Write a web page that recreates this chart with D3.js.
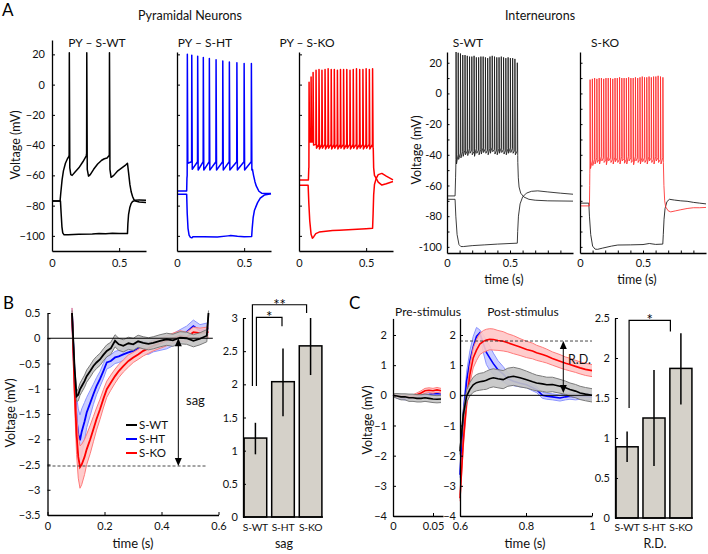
<!DOCTYPE html>
<html><head><meta charset="utf-8">
<script src="https://cdn.jsdelivr.net/npm/d3@7"></script>
<style>body{margin:0;background:#fff}</style>
</head><body><svg id="c" width="708" height="554"></svg>
<script>
// ================= DATA =================
const pyTitles = ["PY – S-WT", "PY – S-HT", "PY – S-KO"];
const pyTicksY = [-100, -80, -60, -40, -20, 0, 20];
const pyTicksX = [0, 0.5];
// PY S-WT (black)
const pyWTdepKnots = [[0,-77],[0.06,-77],[0.065,-72],[0.075,-63],[0.085,-57],[0.1,-52],[0.115,-49],[0.126,-47.5],
  [0.14,-59.5],[0.15,-60],[0.17,-58],[0.2,-55],[0.23,-51],[0.25,-48],[0.255,-47],
  [0.272,-60.5],[0.285,-59.5],[0.31,-56],[0.34,-52.5],[0.37,-50],[0.39,-49],[0.41,-48.5],[0.424,-47],
  [0.44,-61.3],[0.46,-60],[0.49,-57],[0.52,-55],[0.55,-53],[0.562,-52],[0.57,-58],[0.58,-66],[0.59,-71],[0.6,-74],[0.61,-76],[0.62,-77],[0.65,-77.6],[0.7,-78]];
const pyWTspikes = [[0.129,-46.5,21,-55],[0.259,-45.5,21,-56],[0.428,-46.5,21,-56]];
const pyWThyp = [[0,-77],[0.063,-77],[0.068,-85],[0.074,-94],[0.08,-98],[0.09,-99.3],[0.12,-99.3],[0.2,-99],[0.3,-98.8],[0.35,-98.5],[0.4,-98.6],[0.45,-98.3],[0.5,-98.5],[0.562,-98.5],[0.565,-92],[0.57,-86],[0.58,-81],[0.59,-78.5],[0.6,-77.3],[0.62,-76.5],[0.65,-76.2],[0.7,-76.4]];
// PY S-HT (blue)
const pyHTdepKnots = [[0,-70.3],[0.072,-70.3],[0.074,-62],
  [0.562,-56],[0.57,-60],[0.58,-64],[0.59,-67],[0.61,-70.5],[0.63,-71.8],[0.66,-72],[0.7,-72]];
const pyHTspikes = [[0.077,-60,20,-52],[0.110,-51,19.5,-56],[0.154,-51,18.8,-56.5],[0.196,-51,18,-56.5],[0.241,-51,17.2,-56.5],[0.291,-51,16.5,-56.5],[0.341,-51,15.6,-56.5],[0.39,-51,15,-56.5],[0.446,-51,14.5,-56.5],[0.5,-51,14,-56.5],[0.554,-51,14,-56.5]];
const pyHThyp = [[0,-72.5],[0.072,-72.5],[0.076,-85],[0.082,-95],[0.09,-99.5],[0.1,-101],[0.11,-101.3],[0.12,-100.5],[0.2,-100.6],[0.3,-100.7],[0.38,-100],[0.4,-99.8],[0.45,-100.3],[0.5,-100.5],[0.556,-100.4],[0.56,-95],[0.567,-88],[0.577,-83],[0.6,-78],[0.62,-75],[0.65,-73],[0.7,-72.2]];
// PY S-KO (red)
const pyKOdepKnots = [[0,-63],[0.07,-63],[0.073,-55],
  [0.553,-42],[0.556,-55],[0.562,-60],[0.575,-62],[0.59,-64.5],[0.617,-66.4],[0.65,-65.5],[0.7,-64]];
const pyKOspikes = [[0.075,-55,1.5,-38],[0.09,-38,5,-38],[0.105,-38,8,-40],[0.127,-39.5,9.5,-42],[0.149,-39.5,10,-42.5],[0.171,-39.5,9.5,-42],[0.194,-39.5,10,-42.5],[0.217,-39.5,10.5,-42],[0.24,-39.5,10,-42.5],[0.263,-39.5,10,-42],[0.286,-39.5,9.5,-42.5],[0.309,-39.5,10,-42],[0.332,-39.5,10,-42.5],[0.356,-39.5,10,-42],[0.38,-39.5,9.5,-42.5],[0.404,-39.5,10,-42],[0.428,-39.5,10.5,-42.5],[0.452,-39.5,10,-42],[0.476,-39.5,10,-42.5],[0.5,-39.5,10.5,-42],[0.524,-39.5,10,-42.5],[0.548,-39.5,10.5,-42]];
const pyKOhyp = [[0,-66.5],[0.068,-66.5],[0.073,-78],[0.08,-90],[0.09,-99],[0.1,-101.5],[0.11,-100.5],[0.125,-98.5],[0.15,-97.5],[0.2,-97],[0.25,-96.5],[0.3,-96.3],[0.4,-95.8],[0.5,-95.3],[0.548,-95],[0.552,-85],[0.556,-73],[0.562,-66],[0.575,-62],[0.59,-59.5],[0.617,-58.7],[0.65,-60.5],[0.7,-63]];

// Interneurons
const inTitles = ["S-WT", "S-KO"];
const inTicksY = [-100,-90,-80,-70,-60,-50,-40,-30,-20,-10,0,10,20];
const inTicksX = [0,0.1,0.2,0.3,0.4,0.5,0.6,0.7,0.8,0.9];
const inWTdepKnots = [[0,-66.8],[0.064,-66.8],[0.068,-55],[0.07,-48],
  [0.562,-45],[0.566,-55],[0.572,-61],[0.585,-65],[0.61,-67.5],[0.65,-69],[0.7,-69.6],[0.8,-70],[1.0,-70.2]];
const inWTspikes = [[0.072,27,-46],[0.089,26.5,-43],[0.107,26,-42],[0.125,25,-41],[0.143,25,-40],[0.161,24.5,-40.5],[0.179,24,-39],[0.197,24,-40],[0.215,24.5,-41],[0.233,23.5,-39],[0.251,23.5,-40],[0.269,24,-39.5],[0.287,24,-38.5],[0.305,23.5,-39],[0.323,23,-40],[0.341,24,-39],[0.359,24.5,-38],[0.377,24,-39.5],[0.395,23.5,-40],[0.413,23.5,-39],[0.431,24,-38.5],[0.449,23.5,-39.5],[0.467,23,-40],[0.485,23.5,-39],[0.503,23,-38.5],[0.521,23,-39],[0.539,22.5,-40],[0.558,20,-40.5]];
const inWThyp = [[0,-69],[0.064,-69],[0.07,-80],[0.08,-92],[0.095,-98.5],[0.11,-99.8],[0.13,-99.8],[0.2,-99.2],[0.3,-98.7],[0.4,-98.2],[0.5,-97.8],[0.558,-97.6],[0.561,-90],[0.567,-80],[0.58,-72],[0.6,-67.5],[0.63,-65],[0.67,-63.8],[0.72,-63.5],[0.8,-64.2],[0.9,-65],[1.0,-65.7]];
const inKOdepKnots = [[0,-73.3],[0.075,-73.3],[0.077,-60],[0.078,-52],
  [0.662,-46],[0.666,-60],[0.672,-70],[0.68,-74],[0.7,-76.5],[0.72,-77.2],[0.76,-76.5],[0.8,-75.8],[0.85,-75],[0.9,-74.5],[0.95,-74.5],[1.0,-74.3]];
const inKOspikes = [[0.08,9,-49],[0.098,9.5,-47],[0.116,10,-46],[0.134,9.5,-45],[0.152,10,-46],[0.17,10,-44],[0.188,9.5,-45],[0.206,10,-46.5],[0.224,10,-44],[0.242,10,-45],[0.26,9.5,-46],[0.278,10,-44.5],[0.296,10,-45],[0.314,10.5,-46],[0.332,10,-44],[0.35,10,-45.5],[0.368,10,-46],[0.386,10.5,-44],[0.404,10,-45],[0.422,10,-46.5],[0.44,10.5,-44],[0.458,10,-45],[0.476,10.5,-46],[0.494,11,-44.5],[0.512,10.5,-45],[0.53,10.5,-46],[0.548,11,-44],[0.566,10.5,-45],[0.584,11,-46],[0.602,11,-44],[0.62,11.5,-45],[0.639,11,-46],[0.658,10.5,-45]];
const inKOhyp = [[0,-71.5],[0.07,-71.5],[0.075,-80],[0.085,-92],[0.1,-99.5],[0.12,-101.5],[0.14,-101.6],[0.18,-100.8],[0.25,-99.5],[0.3,-98.8],[0.4,-98.7],[0.5,-98.5],[0.55,-97.8],[0.6,-98.4],[0.657,-98.2],[0.661,-92],[0.667,-82],[0.675,-75],[0.69,-70.5],[0.71,-69],[0.75,-69.5],[0.8,-70],[0.85,-70.3],[0.9,-71],[0.95,-71.5],[1.0,-72]];

// Panel B: sag traces (mean and s.e.m.)
const seriesNames = ["S-WT", "S-HT", "S-KO"];
const tB = [0.086,0.095,0.102,0.108,0.114,0.12,0.13,0.1375,0.15,0.161,0.172,0.184,0.196,0.208,0.222,0.237,0.25,0.266,0.284,0.301,0.318,0.336,0.354,0.371,0.395,0.418,0.44,0.465,0.488,0.512,0.535,0.559,0.565];
const sagWT = [0.5,-0.6,-1.15,-1.12,-1.01,-0.95,-0.85,-0.75,-0.65,-0.55,-0.48,-0.42,-0.33,-0.25,-0.2,-0.05,-0.12,-0.15,-0.1,-0.12,-0.06,-0.09,-0.11,-0.09,-0.05,-0.02,-0.04,0.01,0.0,-0.05,-0.01,0.05,0.5];
const sagHT = [0.5,-0.8,-1.6,-1.9,-2.02,-1.85,-1.65,-1.47,-1.28,-1.11,-0.95,-0.81,-0.65,-0.48,-0.45,-0.38,-0.36,-0.32,-0.28,-0.25,-0.2,-0.18,-0.2,-0.15,-0.12,-0.09,-0.03,0.05,0.12,0.24,0.15,0.18,0.2];
const sagKO = [0.5,-1.0,-1.9,-2.35,-2.55,-2.5,-2.35,-2.2,-2.0,-1.8,-1.6,-1.41,-1.2,-1.01,-0.88,-0.75,-0.65,-0.55,-0.45,-0.38,-0.32,-0.25,-0.2,-0.15,-0.1,-0.05,0.0,0.05,0.02,0.12,0.1,0.12,0.12];
const semWT = [0.05,0.08,0.1,0.12,0.12,0.12,0.12,0.12,0.12,0.12,0.12,0.12,0.12,0.12,0.12,0.12,0.12,0.12,0.12,0.12,0.12,0.12,0.12,0.12,0.12,0.12,0.12,0.12,0.12,0.12,0.12,0.12,0.05];
const semHT = [0.1,0.3,0.45,0.5,0.5,0.45,0.38,0.3,0.25,0.2,0.17,0.15,0.15,0.13,0.12,0.12,0.12,0.12,0.12,0.12,0.12,0.12,0.12,0.12,0.12,0.12,0.12,0.12,0.12,0.12,0.12,0.12,0.12];
const semKO = [0.1,0.3,0.4,0.42,0.42,0.4,0.35,0.3,0.28,0.25,0.22,0.2,0.18,0.16,0.15,0.14,0.13,0.12,0.12,0.1,0.1,0.1,0.1,0.1,0.1,0.1,0.1,0.1,0.1,0.1,0.1,0.1,0.1];
const sagLevel = -2.53;
const sagArrowT = 0.459;

// Panel B bars
const barCats = ["S-WT", "S-HT", "S-KO"];
const sagMean = [1.19, 2.04, 2.58];
const sagLo = [0.945, 1.52, 2.14];
const sagHi = [1.42, 2.54, 3.0];
const sagSig = [{a:"S-WT", b:"S-HT", y:3.01, ya:1.975, yb:2.875, label:"*"},
                {a:"S-WT", b:"S-KO", y:3.2, ya:1.975, yb:3.075, label:"**"}];

// Panel C: rebound depolarization
const tPre = [0,0.005,0.01,0.015,0.02,0.025,0.03,0.035,0.04,0.045,0.05,0.055,0.06];
const preWT = [0,-0.02,-0.05,-0.05,-0.08,-0.08,-0.1,-0.1,-0.08,-0.1,-0.12,-0.13,-0.12];
const preHT = [0,-0.05,-0.08,-0.1,-0.08,-0.05,-0.03,0,0.02,0.03,0.05,0.05,0.05];
const preKO = [0,-0.02,-0.04,-0.04,-0.05,-0.03,0.02,0.08,0.15,0.17,0.15,0.18,0.15];
const preSemWT = [0.05,0.08,0.1,0.1,0.12,0.12,0.12,0.12,0.12,0.12,0.12,0.12,0.12];
const preSemHT = [0.03,0.05,0.05,0.05,0.05,0.05,0.05,0.05,0.05,0.05,0.05,0.05,0.05];
const preSemKO = [0.03,0.04,0.04,0.04,0.05,0.05,0.06,0.07,0.08,0.08,0.08,0.08,0.08];
const tPost = [0.6,0.61,0.62,0.63,0.64,0.65,0.66,0.671,0.68,0.69,0.701,0.715,0.731,0.745,0.762,0.782,0.802,0.82,0.832,0.85,0.863,0.88,0.903,0.92,0.933,0.95,0.964,0.98,1.0];
const postWT = [-1.86,-0.64,-0.03,0.2,0.35,0.42,0.45,0.47,0.5,0.55,0.58,0.55,0.52,0.6,0.63,0.58,0.52,0.45,0.41,0.38,0.35,0.36,0.3,0.25,0.19,0.14,0.08,0.04,0.0];
const postHT = [-2.63,-0.64,0.47,1.13,1.6,1.95,2.07,1.7,1.42,1.24,1.05,0.85,0.7,0.55,0.47,0.4,0.35,0.25,0.19,0.0,-0.03,-0.05,-0.09,-0.05,-0.03,-0.05,-0.03,-0.04,-0.05];
const postKO = [-3.41,-1.53,-0.2,0.69,1.24,1.5,1.7,1.79,1.83,1.86,1.85,1.82,1.79,1.74,1.68,1.6,1.52,1.47,1.41,1.35,1.3,1.22,1.13,1.06,1.02,0.96,0.91,0.86,0.82];
const postSemWT = [0.1,0.15,0.2,0.22,0.25,0.27,0.28,0.28,0.3,0.3,0.3,0.3,0.3,0.3,0.3,0.3,0.28,0.27,0.26,0.25,0.25,0.24,0.23,0.22,0.22,0.22,0.22,0.22,0.22];
const postSemHT = [0.1,0.2,0.3,0.35,0.35,0.3,0.1,0.3,0.4,0.4,0.35,0.3,0.25,0.2,0.15,0.12,0.1,0.1,0.1,0.1,0.1,0.1,0.1,0.1,0.1,0.1,0.1,0.1,0.1];
const postSemKO = [0.1,0.2,0.25,0.3,0.33,0.35,0.35,0.36,0.36,0.35,0.35,0.33,0.32,0.3,0.3,0.28,0.27,0.26,0.25,0.24,0.23,0.22,0.22,0.21,0.21,0.2,0.2,0.2,0.2];
const rdLevel = 1.8;
const rdArrowT = 0.913;
const rdArrowBottom = 0.08;

// Panel C bars
const rdMean = [0.89, 1.25, 1.87];
const rdLo = [0.70, 0.65, 1.42];
const rdHi = [1.08, 1.85, 2.31];
const rdSig = [{a:"S-WT", b:"S-KO", y:2.47, ya:1.375, yb:2.33, label:"*"}];

// ================= DRAWING =================
const FONT = "Lato, 'Open Sans', 'DejaVu Sans', sans-serif";
const svg = d3.select("#c").attr("font-family", FONT);
const COL = {wt:"#000000", ht:"#0000ff", ko:"#ff0000"};

function txt(x, y, s, o = {}) {
  const t = svg.append("text").attr("x", x).attr("y", y).text(s)
    .attr("font-size", o.size || 12).attr("fill", o.fill || "#111")
    .attr("text-anchor", o.anchor || "middle");
  if (o.rotate) t.attr("transform", `rotate(-90,${x},${y})`);
  return t;
}
function styleAxis(g) {
  g.attr("font-family", FONT).attr("font-size", 11);
  g.select(".domain").attr("stroke", "#000").attr("stroke-width", 1.3);
  g.selectAll(".tick line").attr("stroke", "#000").attr("stroke-width", 1);
  g.selectAll(".tick text").attr("fill", "#111");
}
function yAxis(y, x0, ticks, fmt, pad = 6, size = -3) {
  svg.append("g").attr("transform", `translate(${x0},0)`)
    .call(d3.axisLeft(y).tickValues(ticks).tickSizeInner(size).tickSizeOuter(0).tickPadding(pad).tickFormat(fmt))
    .call(styleAxis);
}
function xAxis(x, y0, ticks, fmt, pad = 7, size = -3) {
  svg.append("g").attr("transform", `translate(0,${y0})`)
    .call(d3.axisBottom(x).tickValues(ticks).tickSizeInner(size).tickSizeOuter(0).tickPadding(pad).tickFormat(fmt))
    .call(styleAxis);
}
function build(knots, spikes, preRise) {
  const pts = knots.map(d => [d[0], d[1]]);
  spikes.forEach(s => {
    let t, pre, pk, tr;
    if (s.length === 4) { [t, pre, pk, tr] = s; } else { [t, pk, tr] = s; pre = tr + preRise; }
    pts.push([t - 0.0012, pre], [t, pk], [t + 0.0035, tr]);
  });
  return pts.sort((a, b) => a[0] - b[0]);
}
function trace(x, y, pts, color, w) {
  svg.append("path").datum(pts)
    .attr("d", d3.line().x(d => x(d[0])).y(d => y(d[1])))
    .attr("fill", "none").attr("stroke", color).attr("stroke-width", w).attr("stroke-linejoin", "round");
}
const fmtNum = d => d3.format("")(d);

// ---- Panel A: pyramidal ----
txt(2, 16, "A", {size: 17, anchor: "start", fill: "#000"});
txt(190, 20, "Pyramidal Neurons", {size: 12.5});
txt(540, 20, "Interneurons", {size: 12.5});
const pxPerMv = 211 / 139.5;
const pyX0 = [52, 177, 299];
const pyTop = [40, 52, 52];
const pyTitleX = [97, 205, 307];
const pySets = [
  {traces: [[build(pyWTdepKnots, pyWTspikes), COL.wt], [pyWThyp, COL.wt]], labels: true},
  {traces: [[build(pyHTdepKnots, pyHTspikes), COL.ht], [pyHThyp, COL.ht]], labels: false},
  {traces: [[build(pyKOdepKnots, pyKOspikes), COL.ko], [pyKOhyp, COL.ko]], labels: false}
];
pySets.forEach((p, i) => {
  const y = d3.scaleLinear().domain([-110, -110 + (251 - pyTop[i]) / pxPerMv]).range([251, pyTop[i]]);
  const x = d3.scaleLinear().domain([0, 0.7]).range([pyX0[i], pyX0[i] + 94]);
  p.traces.forEach(([pts, c]) => trace(x, y, pts, c, 1.5));
  yAxis(y, pyX0[i], pyTicksY, p.labels ? fmtNum : () => "", 7);
  xAxis(x, 251, pyTicksX, fmtNum, 8);
  txt(pyTitleX[i], 47, pyTitles[i], {size: 12});
});
txt(20, 145, "Voltage (mV)", {size: 12.5, rotate: true});

// ---- Panel A: interneurons ----
const inY = d3.scaleLinear().domain([-104, 27]).range([253, 52]);
const inX0 = [447, 580];
const inTitleX = [468, 605];
const inSets = [
  [[build(inWTdepKnots, inWTspikes, 3), "#1a1a1a"], [inWThyp, "#1a1a1a"]],
  [[inKOhyp, "#111"], [build(inKOdepKnots, inKOspikes, 3), "#ff2a2a"]]
];
inSets.forEach((set, i) => {
  const x = d3.scaleLinear().domain([0, 1]).range([inX0[i], inX0[i] + 126]);
  set.forEach(([pts, c]) => trace(x, inY, pts, c, 0.85));
  yAxis(inY, inX0[i], inTicksY, i === 0 ? (d => d % 20 === 0 ? d : "") : () => "", 5, -2.5);
  xAxis(x, 253, inTicksX, d => (d === 0 || d === 0.5) ? d : "", 6, -2.5);
  txt(inTitleX[i], 47, inTitles[i], {size: 12});
  txt(inX0[i] + 57, 284, "time (s)", {size: 12.5});
});
txt(421, 150, "Voltage (mV)", {size: 12.5, rotate: true});

// ---- Panel B: sag traces ----
txt(3, 309, "B", {size: 17, anchor: "start", fill: "#000"});
const bx = d3.scaleLinear().domain([0, 0.6]).range([47.5, 218.5]);
const by = d3.scaleLinear().domain([-3.5, 0.5]).range([515, 313]);
const bSeries = [
  {m: sagHT, e: semHT, line: COL.ht, fill: "#c4c8ff", edge: "#8a93ff"},
  {m: sagKO, e: semKO, line: COL.ko, fill: "#ffc6c6", edge: "#ff7a7a"},
  {m: sagWT, e: semWT, line: COL.wt, fill: "#c4c4c4", edge: "#7a7a7a"}
];
function bandSeries(x, y, t, s, lw) {
  const idx = d3.range(t.length);
  svg.append("path").datum(idx)
    .attr("d", d3.area().x(i => x(t[i])).y0(i => y(s.m[i] - s.e[i])).y1(i => y(s.m[i] + s.e[i])))
    .attr("fill", s.fill).attr("opacity", 0.9);
  [-1, 1].forEach(sg => {
    svg.append("path").datum(idx)
      .attr("d", d3.line().x(i => x(t[i])).y(i => y(s.m[i] + sg * s.e[i])))
      .attr("fill", "none").attr("stroke", s.edge).attr("stroke-width", 1);
  });
  svg.append("path").datum(idx)
    .attr("d", d3.line().x(i => x(t[i])).y(i => y(s.m[i])))
    .attr("fill", "none").attr("stroke", s.line).attr("stroke-width", lw);
}
bSeries.forEach(s => bandSeries(bx, by, tB, s, 1.8));
svg.append("line").attr("x1", bx(0)).attr("x2", bx(0.58)).attr("y1", by(0)).attr("y2", by(0)).attr("stroke", "#000").attr("stroke-width", 1);
svg.append("line").attr("x1", bx(0)).attr("x2", bx(0.558)).attr("y1", by(sagLevel)).attr("y2", by(sagLevel))
  .attr("stroke", "#333").attr("stroke-width", 0.9).attr("stroke-dasharray", "3,2");
function dblArrow(x, yTop, yBot) {
  svg.append("line").attr("x1", x).attr("x2", x).attr("y1", yTop + 6).attr("y2", yBot - 6).attr("stroke", "#000").attr("stroke-width", 1);
  svg.append("path").attr("d", `M${x},${yTop}L${x - 3.5},${yTop + 8}L${x + 3.5},${yTop + 8}Z`).attr("fill", "#000");
  svg.append("path").attr("d", `M${x},${yBot}L${x - 3.5},${yBot - 8}L${x + 3.5},${yBot - 8}Z`).attr("fill", "#000");
}
dblArrow(bx(sagArrowT), by(0), by(sagLevel));
txt(186, 405, "sag", {size: 13, anchor: "start"});
yAxis(by, bx(0), [-3.5,-3,-2.5,-2,-1.5,-1,-0.5,0,0.5], fmtNum, 7);
xAxis(bx, by(-3.5), [0, 0.2, 0.4, 0.6], fmtNum, 7);
txt(133, 548, "time (s)", {size: 13});
txt(15, 413, "Voltage (mV)", {size: 12.5, rotate: true});
// legend
const legY = [425, 439, 453];
[COL.wt, COL.ht, COL.ko].forEach((c, i) => {
  svg.append("line").attr("x1", 126).attr("x2", 137).attr("y1", legY[i]).attr("y2", legY[i]).attr("stroke", c).attr("stroke-width", 2);
  txt(139, legY[i] + 4, seriesNames[i], {size: 11.5, anchor: "start"});
});

// ---- Bar helper ----
function bars(range, yDom, yRange, mean, lo, hi, ticks, sig, sigOff, title) {
  const x = d3.scaleBand().domain(barCats).range(range).paddingInner(0.18).paddingOuter(0.04);
  const y = d3.scaleLinear().domain(yDom).range(yRange);
  svg.append("g").selectAll("rect").data(barCats).join("rect")
    .attr("x", d => x(d)).attr("width", x.bandwidth())
    .attr("y", (d, i) => y(mean[i])).attr("height", (d, i) => y(0) - y(mean[i]))
    .attr("fill", "#d5d1c9").attr("stroke", "#000").attr("stroke-width", 1.5);
  svg.append("g").selectAll("line").data(barCats).join("line")
    .attr("x1", d => x(d) + x.bandwidth() / 2).attr("x2", d => x(d) + x.bandwidth() / 2)
    .attr("y1", (d, i) => y(lo[i])).attr("y2", (d, i) => y(hi[i]))
    .attr("stroke", "#000").attr("stroke-width", 1.5);
  yAxis(y, range[0], ticks, fmtNum, 5);
  svg.append("line").attr("x1", range[0]).attr("x2", range[1]).attr("y1", y(0)).attr("y2", y(0)).attr("stroke", "#000").attr("stroke-width", 1.3);
  barCats.forEach(c => txt(x(c) + x.bandwidth() / 2, 531, c, {size: 10.3}).attr("letter-spacing", -0.2));
  txt((range[0] + range[1]) / 2 + 1, 548, title, {size: 12.5});
  sig.forEach((s, k) => {
    const xa = x(s.a) + x.bandwidth() / 2 + sigOff[k][0];
    const xb = x(s.b) + x.bandwidth() / 2 + sigOff[k][1];
    svg.append("path").attr("d", `M${xa},${y(s.ya)}V${y(s.y)}H${xb}V${y(s.yb)}`)
      .attr("fill", "none").attr("stroke", "#000").attr("stroke-width", 1.2);
    txt((xa + xb) / 2, y(s.y) + 5, s.label, {size: 15, fill: "#000"});
  });
}
bars([243, 323], [0, 3], [517, 318], sagMean, sagLo, sagHi, [0,0.5,1,1.5,2,2.5,3], sagSig, [[1, -1], [-3, -4]], "sag");

// ---- Panel C ----
txt(349, 309, "C", {size: 17, anchor: "start", fill: "#000"});
const cy = d3.scaleLinear().domain([-4, 2.55]).range([516, 318.4]);
const cxPre = d3.scaleLinear().domain([0, 0.0625]).range([393, 443]);
const cxPost = d3.scaleLinear().domain([0.6, 1.0]).range([460, 592]);
const preSeries = [
  {m: preHT, e: preSemHT, line: COL.ht, fill: "#c4c8ff", edge: "#8a93ff"},
  {m: preKO, e: preSemKO, line: COL.ko, fill: "#ffc6c6", edge: "#ff7a7a"},
  {m: preWT, e: preSemWT, line: COL.wt, fill: "#c4c4c4", edge: "#7a7a7a"}
];
preSeries.forEach(s => bandSeries(cxPre, cy, tPre, s, 1.6));
const postSeries = [
  {m: postHT, e: postSemHT, line: COL.ht, fill: "#c4c8ff", edge: "#8a93ff"},
  {m: postKO, e: postSemKO, line: COL.ko, fill: "#ffc6c6", edge: "#ff7a7a"},
  {m: postWT, e: postSemWT, line: COL.wt, fill: "#c4c4c4", edge: "#7a7a7a"}
];
postSeries.forEach(s => bandSeries(cxPost, cy, tPost, s, 1.6));
svg.append("line").attr("x1", cxPost(0.6)).attr("x2", cxPost(1)).attr("y1", cy(0)).attr("y2", cy(0)).attr("stroke", "#000").attr("stroke-width", 1);
svg.append("line").attr("x1", cxPost(0.6)).attr("x2", cxPost(1)).attr("y1", cy(rdLevel)).attr("y2", cy(rdLevel))
  .attr("stroke", "#333").attr("stroke-width", 0.9).attr("stroke-dasharray", "3,2");
dblArrow(cxPost(rdArrowT), cy(rdLevel), cy(rdArrowBottom));
txt(568, 364, "R.D.", {size: 12.5, anchor: "start"});
const cTicks = [-4,-3,-2,-1,0,1,2];
yAxis(cy, 393, cTicks, fmtNum, 6);
yAxis(cy, 460, cTicks, fmtNum, 4);
xAxis(cxPre, 516, [0, 0.05], fmtNum, 6);
xAxis(cxPost, 516, [0.6, 0.8, 1], fmtNum, 6);
txt(428, 316, "Pre-stimulus", {size: 12});
txt(523, 316, "Post-stimulus", {size: 12});
txt(525, 548, "time (s)", {size: 13});
txt(372, 420, "Voltage (mV)", {size: 12.5, rotate: true});
bars([615, 693], [0, 2.5], [518, 318], rdMean, rdLo, rdHi, [0,0.5,1,1.5,2,2.5], rdSig, [[2, -10.5]], "R.D.");
</script></body></html>
